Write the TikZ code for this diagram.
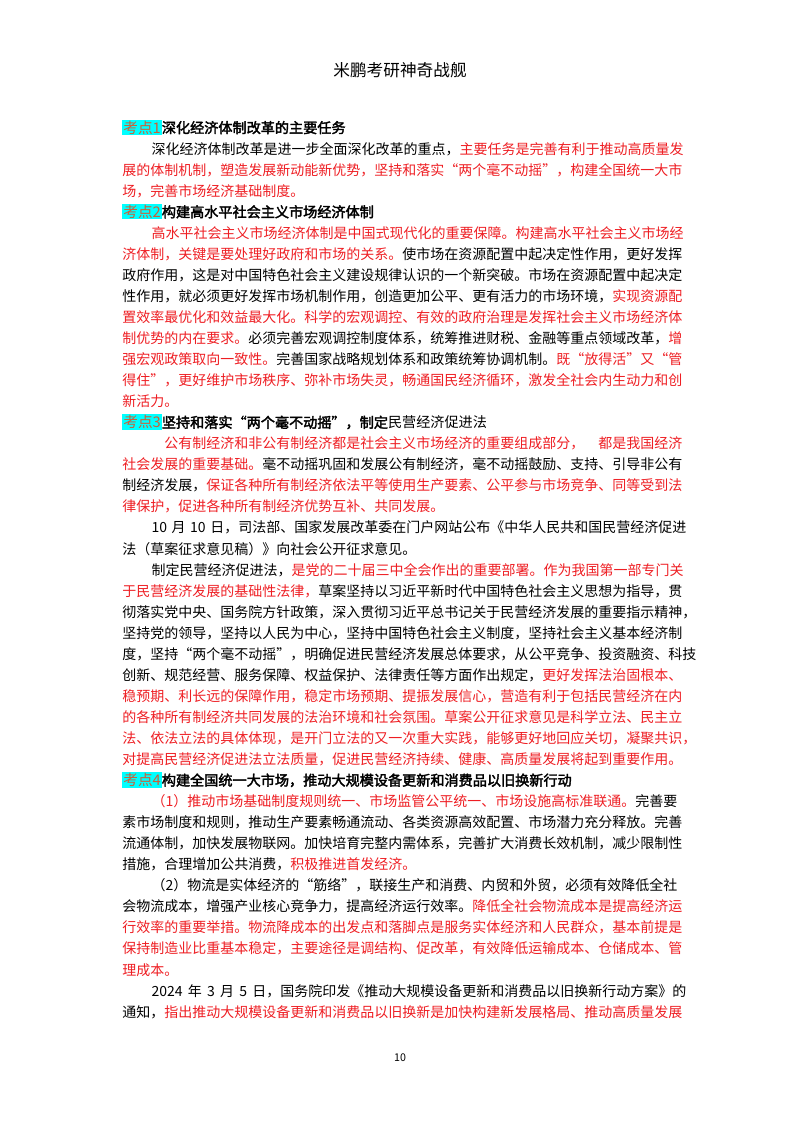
\documentclass[tikz,border=0pt]{standalone}
\usepackage{fontspec}
\setmainfont{Noto Sans CJK SC}[AutoFakeBold=2.5]
\definecolor{hl}{RGB}{0,255,255}
\definecolor{kd}{RGB}{205,95,55}
\definecolor{rd}{RGB}{238,30,35}
\newcommand\R[1]{{\color{rd}#1}}
\newcommand\KD[1]{{\setlength\fboxsep{0.8pt}\colorbox{hl}{\mdseries\fontsize{11pt}{12pt}\selectfont\color{kd}#1}}}
\newcommand\HD[1]{{\fontsize{10.6pt}{12pt}\selectfont\textbf{#1}}}
\newcommand\sg{\hskip 0pt plus 1fil\relax}
\XeTeXinterchartoks 1 1 = {\sg}
\XeTeXinterchartoks 1 2 = {\sg}
\XeTeXinterchartoks 1 3 = {\sg}
\XeTeXinterchartoks 2 1 = {\sg}
\XeTeXinterchartoks 3 1 = {\sg}
\XeTeXinterchartoks 3 2 = {\sg}
\XeTeXinterchartoks 3 3 = {\sg}
\XeTeXinterchartoks 2 2 = {\sg}
\XeTeXinterchartoks 0 1 = {\sg}
\XeTeXinterchartoks 1 0 = {\sg}
\XeTeXinterchartoks 0 2 = {\sg}
\XeTeXinterchartoks 3 0 = {\sg}
\tikzset{ln/.style={anchor=base west,inner sep=0pt,font=\fontsize{10.5pt}{12pt}\selectfont}}
\newcommand\LJ[3]{\node[ln] (#1) at (122,{133+21.05*#2}) {\XeTeXinterchartokenstate=1 \hbox to 423pt{#3}};}
\newcommand\LN[3]{\node[ln] (#1) at (122,{133+21.05*#2}) {#3};}
\newcommand\ind{\hspace*{2.1em}}
\begin{document}
\begin{tikzpicture}[x=0.75pt,y=-0.75pt]
\useasboundingbox (0,0) rectangle (800,1132);
\node[font=\fontsize{12.5pt}{14pt}\selectfont] (title) at (400,70) {米鹏考研神奇战舰};
\LN{l0}{0}{\KD{考点1}\HD{深化经济体制改革的主要任务}}
\LJ{l1}{1}{\ind 深化经济体制改革是进一步全面深化改革的重点，\R{主要任务是完善有利于推动高质量发}}
\LJ{l2}{2}{\R{展的体制机制，塑造发展新动能新优势，坚持和落实“两个毫不动摇”，构建全国统一大市}}
\LN{l3}{3}{\R{场，完善市场经济基础制度。}}
\LN{l4}{4}{\KD{考点2}\HD{构建高水平社会主义市场经济体制}}
\LJ{l5}{5}{\ind\R{高水平社会主义市场经济体制是中国式现代化的重要保障。构建高水平社会主义市场经}}
\LJ{l6}{6}{\R{济体制，关键是要处理好政府和市场的关系。}使市场在资源配置中起决定性作用，更好发挥}
\LJ{l7}{7}{政府作用，这是对中国特色社会主义建设规律认识的一个新突破。市场在资源配置中起决定}
\LJ{l8}{8}{性作用，就必须更好发挥市场机制作用，创造更加公平、更有活力的市场环境，\R{实现资源配}}
\LJ{l9}{9}{\R{置效率最优化和效益最大化。科学的宏观调控、有效的政府治理是发挥社会主义市场经济体}}
\LJ{l10}{10}{\R{制优势的内在要求。}必须完善宏观调控制度体系，统筹推进财税、金融等重点领域改革，\R{增}}
\LJ{l11}{11}{\R{强宏观政策取向一致性。}完善国家战略规划体系和政策统筹协调机制。\R{既“放得活”又“管}}
\LJ{l12}{12}{\R{得住”，更好维护市场秩序、弥补市场失灵，畅通国民经济循环，激发全社会内生动力和创}}
\LN{l13}{13}{\R{新活力。}}
\LN{l14}{14}{\KD{考点3}\HD{坚持和落实“两个毫不动摇”，制定}{\fontsize{10.6pt}{12pt}\selectfont 民营经济促进法}}
\LJ{l15}{15}{\hspace*{3em}\R{公有制经济和非公有制经济都是社会主义市场经济的重要组成部分，\hspace*{1em}都是我国经济}}
\LJ{l16}{16}{\R{社会发展的重要基础。}毫不动摇巩固和发展公有制经济，毫不动摇鼓励、支持、引导非公有}
\LJ{l17}{17}{制经济发展，\R{保证各种所有制经济依法平等使用生产要素、公平参与市场竞争、同等受到法}}
\LN{l18}{18}{\R{律保护，促进各种所有制经济优势互补、共同发展。}}
\LJ{l19}{19}{\ind 10 月 10 日，司法部、国家发展改革委在门户网站公布《中华人民共和国民营经济促进}
\LN{l20}{20}{法（草案征求意见稿）》向社会公开征求意见。}
\LJ{l21}{21}{\ind 制定民营经济促进法，\R{是党的二十届三中全会作出的重要部署。作为我国第一部专门关}}
\LJ{l22}{22}{\R{于民营经济发展的基础性法律，}草案坚持以习近平新时代中国特色社会主义思想为指导，贯}
\LJ{l23}{23}{彻落实党中央、国务院方针政策，深入贯彻习近平总书记关于民营经济发展的重要指示精神，}
\LJ{l24}{24}{坚持党的领导，坚持以人民为中心，坚持中国特色社会主义制度，坚持社会主义基本经济制}
\LJ{l25}{25}{度，坚持“两个毫不动摇”，明确促进民营经济发展总体要求，从公平竞争、投资融资、科技}
\LJ{l26}{26}{创新、规范经营、服务保障、权益保护、法律责任等方面作出规定，\R{更好发挥法治固根本、}}
\LJ{l27}{27}{\R{稳预期、利长远的保障作用，稳定市场预期、提振发展信心，营造有利于包括民营经济在内}}
\LJ{l28}{28}{\R{的各种所有制经济共同发展的法治环境和社会氛围。草案公开征求意见是科学立法、民主立}}
\LJ{l29}{29}{\R{法、依法立法的具体体现，是开门立法的又一次重大实践，能够更好地回应关切，凝聚共识，}}
\LJ{l30}{30}{\R{对提高民营经济促进法立法质量，促进民营经济持续、健康、高质量发展将起到重要作用。}}
\LN{l31}{31}{\KD{考点4}\HD{构建全国统一大市场，推动大规模设备更新和消费品以旧换新行动}}
\LJ{l32}{32}{\ind\R{（1）推动市场基础制度规则统一、市场监管公平统一、市场设施高标准联通。}完善要}
\LJ{l33}{33}{素市场制度和规则，推动生产要素畅通流动、各类资源高效配置、市场潜力充分释放。完善}
\LJ{l34}{34}{流通体制，加快发展物联网。加快培育完整内需体系，完善扩大消费长效机制，减少限制性}
\LN{l35}{35}{措施，合理增加公共消费，\R{积极推进首发经济。}}
\LJ{l36}{36}{\ind（2）物流是实体经济的“筋络”，联接生产和消费、内贸和外贸，必须有效降低全社}
\LJ{l37}{37}{会物流成本，增强产业核心竞争力，提高经济运行效率。\R{降低全社会物流成本是提高经济运}}
\LJ{l38}{38}{\R{行效率的重要举措。物流降成本的出发点和落脚点是服务实体经济和人民群众，基本前提是}}
\LJ{l39}{39}{\R{保持制造业比重基本稳定，主要途径是调结构、促改革，有效降低运输成本、仓储成本、管}}
\LN{l40}{40}{\R{理成本。}}
\LJ{l41}{41}{\ind 2024 年 3 月 5 日，国务院印发《推动大规模设备更新和消费品以旧换新行动方案》的}
\LJ{l42}{42}{通知，\R{指出推动大规模设备更新和消费品以旧换新是加快构建新发展格局、推动高质量发展}}
\node[font=\fontsize{8pt}{10pt}\selectfont] (pg) at (400,1058) {10};
\end{tikzpicture}
\end{document}
